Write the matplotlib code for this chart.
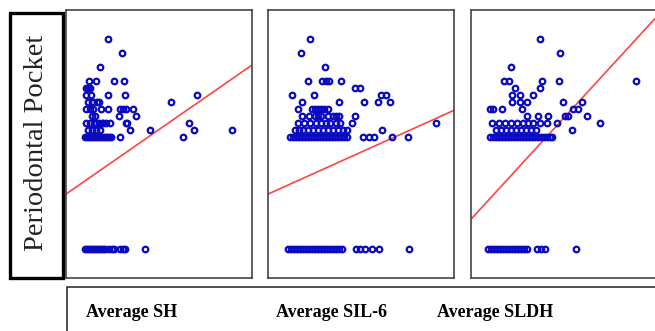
import matplotlib.pyplot as plt
from matplotlib.patches import Rectangle

# panel titles (bottom box)
labels = ['Average SH', 'Average SIL-6', 'Average SLDH']
y_label = 'Periodontal Pocket'

# SH panel
sh_x = [19, 21, 23, 25, 27, 29, 31, 33, 35, 37, 39, 43, 46, 48, 54, 57, 59, 79,
        19, 21, 23, 25, 27, 29, 31, 33, 35, 37, 39, 41, 43, 45, 54, 117,
        22, 26, 30, 34, 64, 84, 128, 166,
        20, 24, 28, 30, 33, 36, 37, 40, 44, 60, 61, 123,
        26, 29, 53, 70,
        20, 24, 27, 35, 42, 54, 57, 60, 67,
        22, 26, 27, 31, 33, 105,
        20, 25, 42, 59, 131,
        20, 22, 24,
        23, 30, 48, 58,
        34, 56, 42]
sh_y = [0] * 18 + \
       [4.0] * 16 + \
       [4.25] * 8 + \
       [4.5] * 12 + \
       [4.75] * 4 + \
       [5.0] * 9 + \
       [5.25] * 6 + \
       [5.5] * 5 + \
       [5.75] * 3 + \
       [6.0] * 4 + \
       [6.5, 7.0, 7.5]

# SIL-6 panel
sil_x = [20, 23, 26, 29, 32, 35, 38, 41, 44, 47, 50, 53, 56, 59, 62, 65, 68, 71, 74,
         88, 92, 97, 104, 111, 141,
         22, 25, 28, 31, 34, 37, 40, 43, 46, 49, 52, 55, 58, 61, 64, 67, 70, 73, 76, 79,
         95, 101, 106, 124, 140,
         27, 31, 35, 40, 45, 50, 55, 60, 65, 70, 75, 79, 114,
         30, 36, 42, 48, 53, 58, 62, 68, 72, 84, 168,
         34, 41, 47, 50, 53, 60, 65, 68, 71, 87,
         30, 44, 47, 50, 53, 56, 60,
         34, 71, 96, 110, 122,
         24, 46, 113, 118,
         87, 92,
         40, 54, 58, 61, 73,
         57, 33, 42]
sil_y = [0] * 25 + \
        [4.0] * 25 + \
        [4.25] * 13 + \
        [4.5] * 11 + \
        [4.75] * 10 + \
        [5.0] * 7 + \
        [5.25] * 5 + \
        [5.5] * 4 + \
        [5.75] * 2 + \
        [6.0] * 5 + \
        [6.5, 7.0, 7.5]

# SLDH panel
sldh_x = [17, 20, 23, 26, 29, 32, 35, 38, 41, 44, 47, 50, 53, 56, 66, 70, 74, 105,
          19, 22, 25, 28, 31, 34, 37, 40, 43, 46, 49, 52, 55, 58, 61, 64, 67, 70, 73, 76, 79, 81,
          25, 30, 35, 40, 45, 50, 55, 60, 65, 101,
          21, 28, 34, 40, 46, 52, 57, 62, 69, 76, 86, 129,
          56, 67, 77, 94, 97, 116,
          19, 22, 31, 51, 102, 107,
          41, 49, 56, 92, 111,
          41, 49, 62,
          44, 69,
          33, 38, 71, 88, 165,
          40, 89, 69]
sldh_y = [0] * 18 + \
         [4.0] * 22 + \
         [4.25] * 10 + \
         [4.5] * 12 + \
         [4.75] * 6 + \
         [5.0] * 6 + \
         [5.25] * 5 + \
         [5.5] * 3 + \
         [5.75] * 2 + \
         [6.0] * 5 + \
         [6.5, 7.0, 7.5]

# fitted lines (intercept, slope)
fits = [(1.96, 0.0248), (1.96, 0.0161), (1.06, 0.039)]

panels = [(sh_x, sh_y), (sil_x, sil_y), (sldh_x, sldh_y)]
lefts = [66, 268, 471]

W, H = 655, 331
fig = plt.figure(figsize=(W / 100, H / 100), dpi=100)

for (xs, ys), (b, m), left in zip(panels, fits, lefts):
    ax = fig.add_axes([left / W, 1 - 278 / H, 186 / W, 268 / H])
    ax.set_xlim(0, 186)
    ax.set_ylim(-1.04, 8.54)
    ax.plot(xs, ys, 'o', mfc='none', mec='#0a0ac0', ms=4.0, mew=1.6, zorder=3)
    x0, x1 = ax.get_xlim()
    ax.plot([x0, x1], [b + m * x0, b + m * x1], color='#ff4444', lw=1.2, zorder=2)
    ax.set_xticks([])
    ax.set_yticks([])
    for s in ax.spines.values():
        s.set_color('#444444')
        s.set_linewidth(1.2)

# y label box
fig.patches.append(Rectangle((10 / W, 1 - 278 / H), 53 / W, 265 / H, transform=fig.transFigure,
                             fill=False, edgecolor='black', lw=2.4))
fig.text(37 / W, 1 - 143 / H, y_label, rotation=90, ha='center', va='center',
         fontsize=20.5, family='Liberation Serif', color='#222222')

# x label box
fig.patches.append(Rectangle((67 / W, -0.05), 600 / W, (331 - 287) / H + 0.05,
                             transform=fig.transFigure, fill=False, edgecolor='#222222', lw=1.1))
for lab, cx in zip(labels, [132, 332, 495]):
    fig.text(cx / W, 1 - 317 / H, lab, ha='center', va='baseline', fontsize=13,
             family='Liberation Serif', fontweight='bold')

fig.savefig('out.png', dpi=100)
